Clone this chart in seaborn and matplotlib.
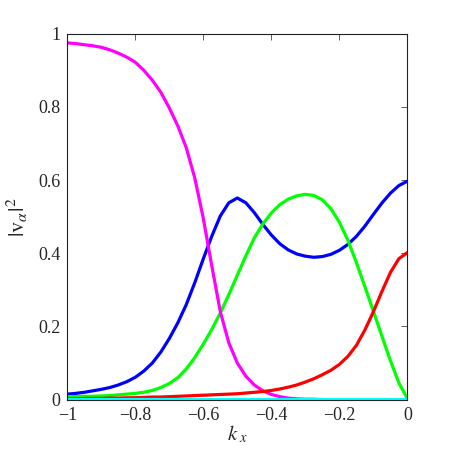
import numpy as np
import pandas as pd
import seaborn as sns
import matplotlib
matplotlib.use("Agg")
import matplotlib.pyplot as plt

# k_x grid (step 0.025)
k = [-1.000, -0.975, -0.950, -0.925, -0.900, -0.875, -0.850, -0.825, -0.800, -0.775,
     -0.750, -0.725, -0.700, -0.675, -0.650, -0.625, -0.600, -0.575, -0.550, -0.525,
     -0.500, -0.475, -0.450, -0.425, -0.400, -0.375, -0.350, -0.325, -0.300, -0.275,
     -0.250, -0.225, -0.200, -0.175, -0.150, -0.125, -0.100, -0.075, -0.050, -0.025, 0.000]

magenta = [0.975, 0.973, 0.970, 0.967, 0.963, 0.956, 0.947, 0.936, 0.922, 0.900,
           0.873, 0.840, 0.797, 0.748, 0.688, 0.605, 0.495, 0.365, 0.240, 0.155,
           0.100, 0.064, 0.040, 0.024, 0.014, 0.008, 0.004, 0.002, 0.001, 0.001,
           0.000, 0.000, 0.000, 0.000, 0.000, 0.000, 0.000, 0.000, 0.000, 0.000, 0.000]

blue = [0.015, 0.017, 0.020, 0.024, 0.028, 0.033, 0.040, 0.049, 0.061, 0.078,
        0.100, 0.130, 0.167, 0.210, 0.260, 0.320, 0.385, 0.447, 0.502, 0.538,
        0.551, 0.538, 0.511, 0.479, 0.450, 0.426, 0.409, 0.398, 0.392, 0.389,
        0.391, 0.397, 0.408, 0.424, 0.446, 0.474, 0.506, 0.537, 0.564, 0.585, 0.597]

green = [0.008, 0.008, 0.009, 0.009, 0.010, 0.011, 0.013, 0.015, 0.017, 0.020,
         0.025, 0.033, 0.044, 0.060, 0.084, 0.115, 0.152, 0.192, 0.237, 0.287,
         0.340, 0.393, 0.442, 0.480, 0.510, 0.533, 0.548, 0.557, 0.561, 0.558,
         0.546, 0.522, 0.485, 0.436, 0.375, 0.309, 0.242, 0.174, 0.107, 0.046, 0.003]

red = [0.002, 0.002, 0.003, 0.003, 0.003, 0.004, 0.004, 0.005, 0.005, 0.006,
       0.007, 0.007, 0.008, 0.009, 0.010, 0.011, 0.012, 0.013, 0.014, 0.015,
       0.016, 0.018, 0.020, 0.022, 0.025, 0.029, 0.034, 0.040, 0.048, 0.057,
       0.068, 0.080, 0.096, 0.118, 0.148, 0.190, 0.240, 0.295, 0.347, 0.385, 0.402]

cyan = [0.002] * 41

xticks = [-1, -0.8, -0.6, -0.4, -0.2, 0]
yticks = [0, 0.2, 0.4, 0.6, 0.8, 1]
xticklabels = ["\u22121", "\u22120.8", "\u22120.6", "\u22120.4", "\u22120.2", "0"]
yticklabels = ["0", "0.2", "0.4", "0.6", "0.8", "1"]

sns.set_style("white")
plt.rcParams['font.family'] = ['Liberation Serif', 'DejaVu Serif']
plt.rcParams['font.serif'] = ['Liberation Serif', 'DejaVu Serif']
plt.rcParams['mathtext.fontset'] = 'stix'

fig = plt.figure(figsize=(4.5, 4.5), dpi=100)
ax = fig.add_axes([0.1496, 0.112, 0.7556, 0.813])

series = [("blue", blue, "#0000FF"), ("green", green, "#00FF00"),
          ("magenta", magenta, "#FF00FF"), ("red", red, "#FF0000"),
          ("cyan", cyan, "#00FFFF")]
for name, vals, col in series:
    df = pd.DataFrame({"k": k, "v": vals})
    sns.lineplot(data=df, x="k", y="v", ax=ax, color=col, linewidth=2.3, sort=False)

ax.set_xlim(-1, 0)
ax.set_ylim(0, 1)
ax.set_xticks(xticks)
ax.set_yticks(yticks)
ax.set_xticklabels(xticklabels, fontfamily="Liberation Serif", fontsize=13)
ax.set_yticklabels(yticklabels, fontfamily="Liberation Serif", fontsize=13)
ax.tick_params(direction="in", length=4, width=0.6, color="#444444",
               top=True, right=True, pad=5)
for s in ax.spines.values():
    s.set_visible(True)
    s.set_linewidth(0.8)
    s.set_color("#222222")

ax.set_xlabel(r"$k_{\ x}$", fontsize=15, labelpad=0)
ax.set_ylabel(r"$|\mathrm{v}_\alpha|^2$", fontsize=16, labelpad=6)

fig.savefig("out.png", dpi=100)
